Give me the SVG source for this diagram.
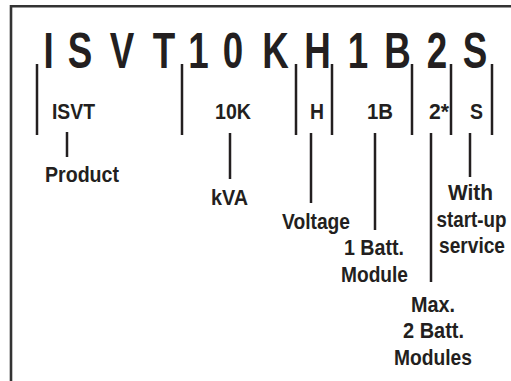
<svg xmlns="http://www.w3.org/2000/svg" width="511" height="381" viewBox="0 0 511 381">
<style>
.t{font-family:"Liberation Sans",Arial,sans-serif;font-weight:bold;fill:#231f20;font-size:22px;text-anchor:middle}
.big{font-family:"Liberation Sans",Arial,sans-serif;font-weight:bold;fill:#231f20;font-size:49px;text-anchor:middle}
.ln{stroke:#231f20;stroke-width:2.5;fill:none}
.bd{stroke:#333;stroke-width:2.6;fill:none}
</style>
<rect width="511" height="381" fill="#fff"/>
<path class="bd" d="M11 381V6.3H511"/>
<g id="code">
<g transform="scale(0.75,1)">
<text class="big" y="68" x="64.67 106.67 162.67 218.67 264.5 310.67 367.33 423.33 477.2 530 582.67 633.33">ISVT10KH1B2S</text>
</g>
</g>
<g id="dividers">
<path class="ln" d="M37 64V135M182 64V135M296 64V135M332 64V135M412 64V135M451 64V135M492 64V135"/>
</g>
<g id="connectors">
<path class="ln" d="M67 132V157M230 133V179M311 133V203M375 133V230M431 133V282M470 133V177"/>
</g>
<g id="node-isvt">
<text class="t" x="73.5" y="119" textLength="43" lengthAdjust="spacingAndGlyphs">ISVT</text>
<text class="t" x="82" y="182" textLength="74" lengthAdjust="spacingAndGlyphs">Product</text>
</g>
<g id="node-10k">
<text class="t" x="233" y="119" textLength="36" lengthAdjust="spacingAndGlyphs">10K</text>
<text class="t" x="229.5" y="205" textLength="37" lengthAdjust="spacingAndGlyphs">kVA</text>
</g>
<g id="node-h">
<text class="t" x="317" y="119" textLength="14" lengthAdjust="spacingAndGlyphs">H</text>
<text class="t" x="316" y="229" textLength="68" lengthAdjust="spacingAndGlyphs">Voltage</text>
</g>
<g id="node-1b">
<text class="t" x="380" y="119" textLength="26" lengthAdjust="spacingAndGlyphs">1B</text>
<text class="t" x="374" y="255" textLength="60" lengthAdjust="spacingAndGlyphs">1 Batt.</text>
<text class="t" x="374.5" y="282" textLength="67" lengthAdjust="spacingAndGlyphs">Module</text>
</g>
<g id="node-2">
<text class="t" x="439" y="119" textLength="20" lengthAdjust="spacingAndGlyphs">2*</text>
<text class="t" x="433" y="312" textLength="44" lengthAdjust="spacingAndGlyphs">Max.</text>
<text class="t" x="433.5" y="338" textLength="61" lengthAdjust="spacingAndGlyphs">2 Batt.</text>
<text class="t" x="433" y="365" textLength="78" lengthAdjust="spacingAndGlyphs">Modules</text>
</g>
<g id="node-s">
<text class="t" x="470.5" y="200" textLength="45" lengthAdjust="spacingAndGlyphs">With</text>
<text class="t" transform="translate(471.5,227) scale(0.855,1)">start-up</text>
<text class="t" transform="translate(472,253) scale(0.87,1)">service</text>
<text class="t" x="476.5" y="119" textLength="13" lengthAdjust="spacingAndGlyphs">S</text>
</g>
</svg>
